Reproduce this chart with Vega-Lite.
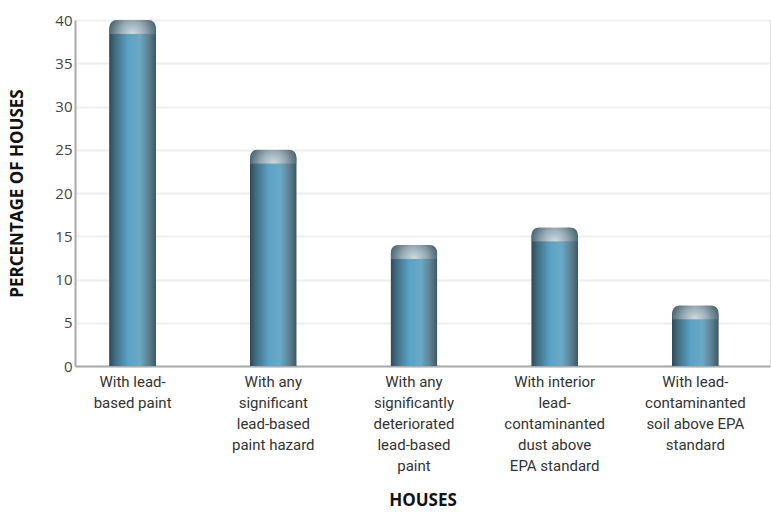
{
  "$schema": "https://vega.github.io/schema/vega-lite/v6.json",
  "width": 695,
  "height": 346,
  "autosize": {"type": "none"},
  "padding": {"left": 75, "top": 20, "right": 1, "bottom": 146},
  "background": "white",
  "data": {
    "values": [
      {"category": "With lead-based paint", "percent": 40},
      {"category": "With any significant lead-based paint hazard", "percent": 25},
      {"category": "With any significantly deteriorated lead-based paint", "percent": 14},
      {"category": "With interior lead-contaminanted dust above EPA standard", "percent": 16},
      {"category": "With lead-contaminanted soil above EPA standard", "percent": 7}
    ]
  },
  "encoding": {
    "x": {
      "field": "category",
      "type": "nominal",
      "sort": null,
      "scale": {"paddingInner": 0.666, "paddingOuter": 0.303, "align": 0.4},
      "axis": {
        "title": "HOUSES",
        "titleFont": "Open Sans",
        "titleFontSize": 17,
        "titleFontWeight": "bold",
        "titleColor": "#111",
        "titlePadding": 19,
        "labelAngle": 0,
        "labelFont": "Roboto, sans-serif",
        "labelFontSize": 15,
        "labelColor": "#333",
        "labelLineHeight": 21,
        "labelPadding": 8,
        "labelLimit": 200,
        "ticks": false,
        "domainColor": "#aaaaaa",
        "domainWidth": 2,
        "labelExpr": "datum.label == 'With lead-based paint' ? ['With lead-', 'based paint'] : datum.label == 'With any significant lead-based paint hazard' ? ['With any', 'significant', 'lead-based', 'paint hazard'] : datum.label == 'With any significantly deteriorated lead-based paint' ? ['With any', 'significantly', 'deteriorated', 'lead-based', 'paint'] : datum.label == 'With interior lead-contaminanted dust above EPA standard' ? ['With interior', 'lead-', 'contaminanted', 'dust above', 'EPA standard'] : ['With lead-', 'contaminanted', 'soil above EPA', 'standard']"
      }
    },
    "y": {
      "field": "percent",
      "type": "quantitative",
      "scale": {"domain": [0, 40], "nice": false},
      "axis": {
        "title": "PERCENTAGE OF HOUSES",
        "titleFont": "Open Sans",
        "titleFontSize": 17,
        "titleFontWeight": "bold",
        "titleColor": "#111",
        "titlePadding": 28,
        "values": [0, 5, 10, 15, 20, 25, 30, 35, 40],
        "labelFont": "Open Sans",
        "labelFontSize": 15,
        "labelColor": "#444",
        "labelPadding": 3,
        "ticks": false,
        "domainColor": "#aaaaaa",
        "domainWidth": 2,
        "gridColor": "#eeeeee",
        "gridWidth": 2
      }
    }
  },
  "layer": [
    {
      "mark": {
        "type": "bar",
        "cornerRadiusTopLeft": 10,
        "cornerRadiusTopRight": 10,
        "fill": {
          "gradient": "linear",
          "x1": 0, "y1": 0, "x2": 1, "y2": 0,
          "stops": [
            {"offset": 0, "color": "#2c4856"},
            {"offset": 0.12, "color": "#3f6b80"},
            {"offset": 0.4, "color": "#5aa2c4"},
            {"offset": 0.65, "color": "#6aa9c6"},
            {"offset": 0.85, "color": "#5e7f8e"},
            {"offset": 1, "color": "#3e5663"}
          ]
        }
      }
    },
    {
      "mark": {
        "type": "tick",
        "orient": "horizontal",
        "size": 46,
        "thickness": 14,
        "yOffset": 7,
        "opacity": 1,
        "cornerRadiusTopLeft": 11,
        "cornerRadiusTopRight": 11,
        "fill": {
          "gradient": "radial",
          "x1": 0.5, "y1": 0.65, "r1": 0,
          "x2": 0.5, "y2": 0.65, "r2": 0.6,
          "stops": [
            {"offset": 0, "color": "#d3dce0"},
            {"offset": 0.45, "color": "#96abb6"},
            {"offset": 1, "color": "#36515f"}
          ]
        }
      }
    }
  ]
}
